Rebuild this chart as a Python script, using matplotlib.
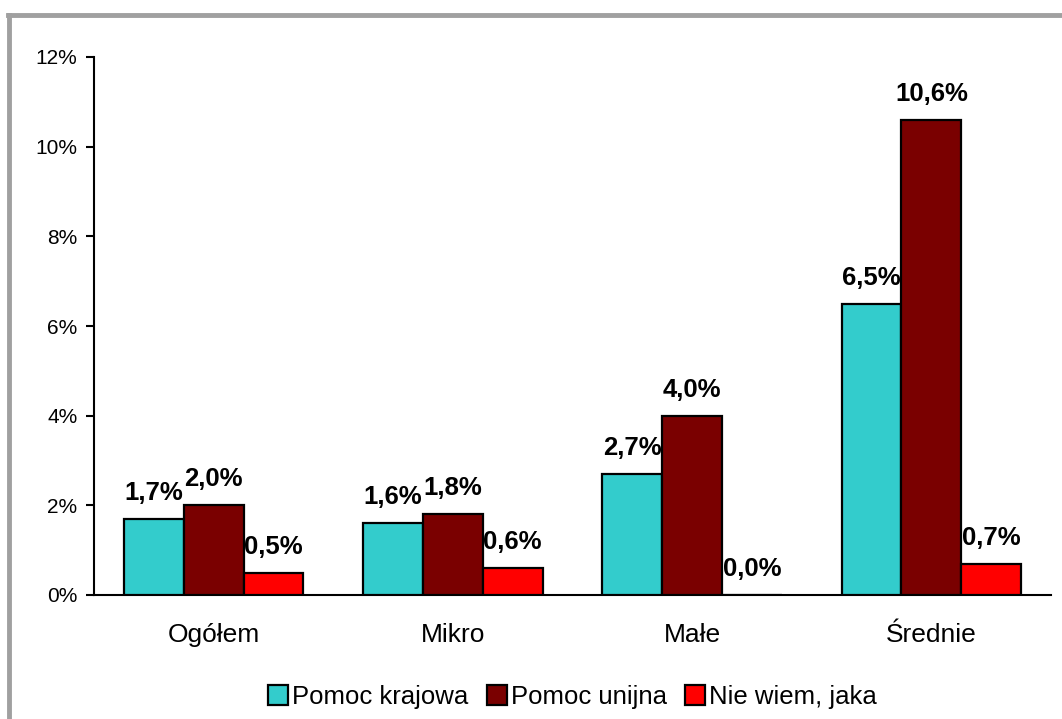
import matplotlib
matplotlib.use("Agg")
import matplotlib.pyplot as plt
from matplotlib.lines import Line2D
import numpy as np

plt.rcParams['font.family'] = ['Liberation Sans', 'DejaVu Sans']

categories = ["Ogółem", "Mikro", "Małe", "Średnie"]
series_names = ["Pomoc krajowa", "Pomoc unijna", "Nie wiem, jaka"]
pomoc_krajowa = [1.7, 1.6, 2.7, 6.5]
pomoc_unijna = [2.0, 1.8, 4.0, 10.6]
nie_wiem = [0.5, 0.6, 0.0, 0.7]
colors = ["#33CCCC", "#7A0000", "#FF0000"]
yticks = [0, 2, 4, 6, 8, 10, 12]

fig = plt.figure(figsize=(10.62, 7.19), dpi=100)
ax = fig.add_axes([94/1062, 1-595/719, (1051-94)/1062, (595-57)/719])

x = np.arange(len(categories))
w = 0.25
for i, (vals, col) in enumerate(zip([pomoc_krajowa, pomoc_unijna, nie_wiem], colors)):
    pos = x + (i - 1) * w
    ax.bar(pos, vals, width=w, color=col, edgecolor="black", linewidth=1.6, zorder=3)
    for px, v in zip(pos, vals):
        ax.annotate(f"{v:.1f}%".replace(".", ","), (px, v), xytext=(0, 10),
                    textcoords="offset points", ha="center", va="bottom",
                    fontsize=18.5, fontweight="bold", color="black")

ax.set_xlim(-0.5, 3.5)
ax.set_ylim(0, 12)
ax.set_yticks(yticks)
ax.set_yticklabels([f"{t}%" for t in yticks], fontsize=15)
ax.set_xticks(x)
ax.set_xticklabels(categories, fontsize=19)
ax.tick_params(axis="x", length=0, pad=20)
ax.tick_params(axis="y", direction="out", length=6, width=1.5, pad=6)
for s in ["top", "right"]:
    ax.spines[s].set_visible(False)
ax.spines["left"].set_linewidth(1.5)
ax.spines["bottom"].set_linewidth(1.5)

handles = [Line2D([0], [0], marker="s", linestyle="none", markersize=14,
                  markerfacecolor=c, markeredgecolor="black", markeredgewidth=1.6)
           for c in colors]
fig.legend(handles, series_names, loc="center", bbox_to_anchor=(571/1062, 1-697/719),
           ncol=3, frameon=False, fontsize=18.5, handletextpad=0.05,
           columnspacing=0.6, handlelength=1.0)

# gray frame border (left and top)
fig.add_artist(Line2D([9/1062, 9/1062], [0, 1-15/719], transform=fig.transFigure,
                      color="#A0A0A0", linewidth=3.5))
fig.add_artist(Line2D([7.5/1062, 1], [1-15/719, 1-15/719], transform=fig.transFigure,
                      color="#A0A0A0", linewidth=3.5))

fig.savefig("out.png", dpi=100)
